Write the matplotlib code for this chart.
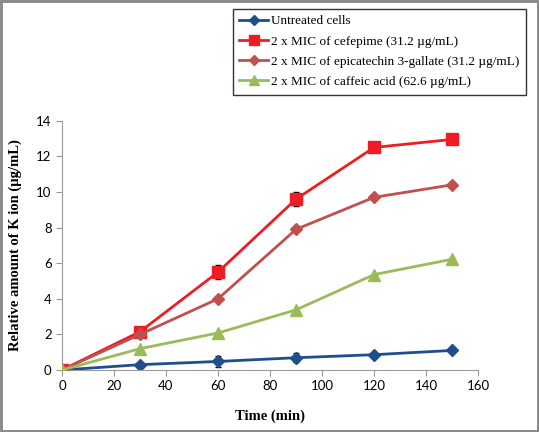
import numpy as np
import matplotlib.pyplot as plt
from matplotlib.lines import Line2D

time_min = [0, 30, 60, 90, 120, 150]

untreated = [0, 0.3, 0.48, 0.69, 0.86, 1.1]
untreated_err = [0, 0.12, 0.32, 0.25, 0.06, 0.06]
cefepime = [0, 2.15, 5.5, 9.6, 12.5, 12.95]
cefepime_err = [0, 0.1, 0.38, 0.37, 0.08, 0.08]
epicatechin = [0, 2.0, 4.0, 7.9, 9.7, 10.4]
caffeic = [0, 1.2, 2.08, 3.38, 5.36, 6.22]

labels = ["Untreated cells",
          "2 x MIC of cefepime (31.2 \u00b5g/mL)",
          "2 x MIC of epicatechin 3-gallate (31.2 \u00b5g/mL)",
          "2 x MIC of caffeic acid (62.6 \u00b5g/mL)"]
colors = ["#1f4e8c", "#ee1c24", "#c0504d", "#9bbb59"]
markers = ["D", "s", "D", "^"]
msizes = [6, 8, 6, 8]

fig = plt.figure(figsize=(5.39, 4.32), dpi=100, edgecolor="#8c8c8c", linewidth=2.5)
ax = fig.add_axes([0.115, 0.1435, 0.772, 0.577])

ax.errorbar(time_min, untreated, yerr=untreated_err, color=colors[0], marker=markers[0],
            markersize=msizes[0], lw=2, ecolor="black", elinewidth=1, capsize=2.5, zorder=2)
ax.errorbar(time_min, cefepime, yerr=cefepime_err, color=colors[1], marker=markers[1],
            markersize=msizes[1], lw=2, ecolor="black", elinewidth=1, capsize=2.5, zorder=3)
ax.plot(time_min, epicatechin, color=colors[2], marker=markers[2], markersize=msizes[2],
        lw=2, zorder=4)
ax.plot(time_min, caffeic, color=colors[3], marker=markers[3], markersize=msizes[3],
        lw=2, zorder=5)

ax.set_xlim(0, 160)
ax.set_ylim(0, 14)
ax.set_xticks(np.arange(0, 161, 20))
ax.set_yticks(np.arange(0, 15, 2))
for s in ["top", "right"]:
    ax.spines[s].set_visible(False)
for s in ["left", "bottom"]:
    ax.spines[s].set_color("#9a9a9a")
ax.tick_params(direction="out", color="#9a9a9a", length=4, labelsize=9.5)
for t in ax.get_xticklabels() + ax.get_yticklabels():
    t.set_family("Lato")

ax.set_xlabel("Time (min)", family="Liberation Serif", fontweight="bold", fontsize=10.5, labelpad=12)
ax.set_ylabel("Relative amount of K ion (\u00b5g/mL)", family="Liberation Serif",
              fontweight="bold", fontsize=10.5, labelpad=10)

handles = [Line2D([], [], color=c, marker=m, markersize=ms - 1, lw=2)
           for c, m, ms in zip(colors, markers, msizes)]
leg = fig.legend(handles, labels, loc="upper left", bbox_to_anchor=(0.432, 0.98), frameon=True,
                 fancybox=False, edgecolor="black", prop={"family": "Liberation Serif", "size": 9.5},
                 handlelength=2.2, handletextpad=0.2, borderpad=0.5, labelspacing=0.6,
                 borderaxespad=0)
leg.get_frame().set_linewidth(1.0)

fig.savefig("out.png", dpi=100)
